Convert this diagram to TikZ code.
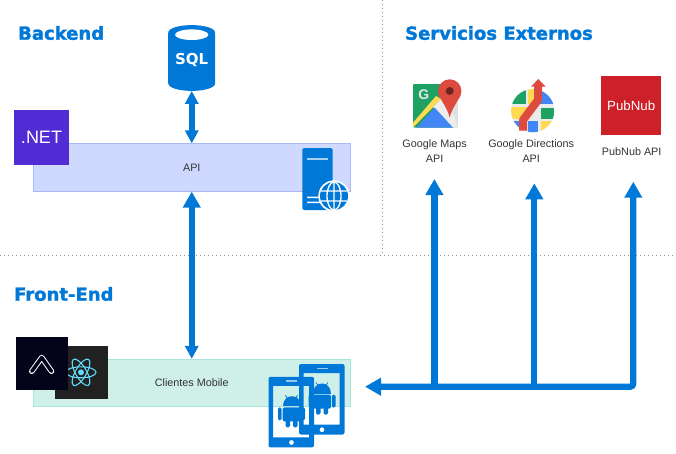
\documentclass[tikz,border=0pt]{standalone}
\usepackage{fontspec}
\setmainfont{Liberation Sans}
\newfontfamily\headfont{DejaVu Sans}[BoldFeatures={FakeBold=1.6}]
\newfontfamily\sqlfont{DejaVu Sans}
\usetikzlibrary{arrows.meta}
\definecolor{flowblue}{HTML}{0078D7}
\definecolor{apifill}{HTML}{CFD8FF}
\definecolor{apiline}{HTML}{A8B8F6}
\definecolor{mobfill}{HTML}{CEF0E9}
\definecolor{mobline}{HTML}{A8E5DA}
\definecolor{netpurple}{HTML}{512BD4}
\definecolor{pubred}{HTML}{CE2029}
\definecolor{atomblue}{HTML}{61DAFB}
\definecolor{ambientdark}{HTML}{03031A}
\definecolor{gred}{HTML}{DD4B3E}
\definecolor{ggreen}{HTML}{1DA261}
\definecolor{gblue}{HTML}{4285F4}
\definecolor{gyellow}{HTML}{FFD94F}
\tikzset{
  bigtip/.tip={Triangle[length=16pt,width=17pt]},
  smalltip/.tip={Triangle[length=13pt,width=13pt]},
  flow/.style={draw=flowblue,line width=6.2pt},
  divider/.style={draw=gray!85,line width=0.7pt,dash pattern=on 1pt off 3pt},
  bar/.style={minimum width=316.5pt,minimum height=47.5pt,line width=0.8pt,inner sep=0pt,text=black!80,font=\fontsize{10.8}{13}\selectfont},
  title/.style={anchor=west,inner sep=0pt,text=flowblue,font=\headfont\bfseries\fontsize{18}{20}\selectfont},
  caption/.style={align=center,text=black!80,font=\fontsize{10.8}{15}\selectfont},
  badge/.style={minimum width=#1,minimum height=#1,inner sep=0pt,text=white}
}
\newcommand{\phonebot}[2]{
  \begin{scope}[shift={(#1,#2)}]
    \fill[flowblue,even odd rule] [rounded corners=2pt] (0,0) rectangle (45.5,70.5)
      [sharp corners] (4.5,9) rectangle (40.5,60.5) (23,65.7) circle (2.5);
    \fill[white!60!flowblue] (17.5,3.5) rectangle (28.5,5);
    \begin{scope}[shift={(23,19.5)},flowblue]
      \fill (-9,10) .. controls (-9,-3.3) and (9,-3.3) .. (9,10) -- cycle;
      \draw[line width=0.8pt] (-4,2) -- (-6,-1) (4,2) -- (6,-1);
      \fill[rounded corners=1.5pt] (-9,11) rectangle (9,25);
      \fill[rounded corners=1.5pt] (-13.5,11) rectangle (-10,24) (10,11) rectangle (13.5,24);
      \fill[rounded corners=1.5pt] (-6,22) rectangle (-1.5,31) (1.5,22) rectangle (6,31);
    \end{scope}
  \end{scope}
}
\begin{document}
\begin{tikzpicture}[x=1pt,y=-1pt]
  \useasboundingbox (0,0) rectangle (676,453);
  \coordinate (divleft) at (0,255);
  \coordinate (divright) at (676,255);
  \coordinate (divtop) at (382,0);
  \coordinate (divend) at (382,255);
  \draw[divider] (divleft) to (divright);
  \draw[divider] (divtop) to (divend);

  \node[title] (backend) at (18,33) {Backend};
  \node[title] (externos) at (405,33) {Servicios Externos};
  \node[title] (frontend) at (14,294) {Front-End};

  \node[bar,fill=apifill,draw=apiline] (api) at (191.75,167.5) {API};
  \node[bar,fill=mobfill,draw=mobline] (mobile) at (191.75,383) {Clientes Mobile};

  % base de datos
  \node[minimum width=47pt,minimum height=65.5pt,inner sep=0pt] (sql) at (191.75,58) {};
  \fill[flowblue] (168.2,33) .. controls (168.2,22.5) and (215.2,22.5) .. (215.2,33) -- (215.2,83)
    .. controls (215.2,93.5) and (168.2,93.5) .. (168.2,83) -- cycle;
  \fill[white] (191.7,34.7) ellipse (16.7 and 5.3);
  \node[text=white,font=\sqlfont\bfseries\fontsize{15}{15}\selectfont] (sqltext) at (191.75,60.5) {SQL};

  \coordinate (mapsin) at (434.4,179);
  \coordinate (dirin) at (534.3,183.3);
  \coordinate (pubin) at (633.3,181.7);
  \coordinate (buscorner) at (633.3,386.7);
  \coordinate (busmaps) at (434.4,386.7);
  \coordinate (busdir) at (534.3,386.7);
  \coordinate (mobilein) at (365,386.7);
  \begin{scope}[flow]
    \draw[smalltip-smalltip] (sql) to (api);
    \draw[bigtip-smalltip] (api) to (mobile);
    \draw[-bigtip] (busmaps) to (mapsin);
    \draw[-bigtip] (busdir) to (dirin);
    \draw[bigtip-bigtip,rounded corners=3pt] (pubin) -- (buscorner) -- (mobilein);
  \end{scope}

  \node[badge=54.4pt,fill=netpurple,font=\fontsize{18}{18}\selectfont] (net) at (41.5,137.3) {.NET};
  \node[badge=53.5pt,fill=black!87] (react) at (81.4,372.7) {};
  \foreach \ang in {0,60,120}
    \draw[atomblue,line width=1.1pt,rotate around={\ang:(81,372.3)}] (81,372.3) ellipse (15 and 5.5);
  \fill[atomblue] (81,372.3) circle (3);
  \node[badge=52.4pt,fill=ambientdark] (ambient) at (42,363.3) {};
  \draw[white,line width=5.5pt,line cap=round,line join=round] (31.8,371.3) -- (41.7,357.5) -- (51.5,371.3);
  \draw[ambientdark,line width=3.5pt,line cap=round,line join=round] (31.8,371.3) -- (41.7,357.5) -- (51.5,371.3);

  % servidor
  \fill[flowblue,rounded corners=1.5pt] (302.3,148) -- (332.7,148) -- (332.7,210) -- (302.3,210) -- cycle;
  \fill[white!65!flowblue] (307,157.5) rectangle (328,159.7);
  \fill[white] (307,196.5) rectangle (320,198.2) (307,201.5) rectangle (320,203.2);
  \fill[white] (334,196) circle (15.7);
  \fill[flowblue] (334,196) circle (14);
  \draw[white,line width=1.3pt] (334,182) -- (334,210) (321,191) -- (347,191) (321,201) -- (347,201) (334,196) ellipse (7 and 14);

  \foreach \px/\py in {299/364,268.5/376.8}
    {\phonebot{\px}{\py}}

  % google maps
  \begin{scope}
    \clip[rounded corners=2pt] (413,83.5) rectangle (458,127.7);
    \fill[ggreen] (413,83.5) rectangle (458,127.7);
    \fill[black!12] (438,100) -- (458,84) -- (458,127.7) -- (452,127.7) -- cycle;
    \fill[gyellow] (413,122.7) -- (436,96) -- (441,99) -- (413,127.7) -- cycle;
    \fill[white!93!black] (441,99) -- (454,116) -- (458,127.7) -- (453,127.7) -- (433,107) -- cycle;
    \fill[gblue] (416.3,127.7) -- (434.7,107.7) -- (453,127.7) -- cycle;
  \end{scope}
  \node[text=white!90!black,font=\bfseries\fontsize{14}{14}\selectfont] (mapsg) at (423.7,95) {G};
  \fill[gred] (449.7,91) circle (11.7);
  \fill[gred] (438.8,95.5) .. controls (443,103) and (448,110) .. (449.7,117.7) .. controls (451.4,110) and (456.4,103) .. (460.6,95.5) -- cycle;
  \fill[gred!50!black] (449.7,91) circle (4);

  % google directions
  \begin{scope}
    \clip (532.7,110.7) circle (21.6);
    \fill[white!92!black] (511,89) rectangle (555,133);
    \fill[ggreen] (511,89) rectangle (525.7,104);
    \fill[gyellow] (527.7,89) rectangle (536,104);
    \fill[gblue] (538,89) rectangle (555,104);
    \fill[gyellow] (511,107) rectangle (530,119);
    \fill[ggreen] (541,108) rectangle (555,119);
    \fill[gblue] (511,121) rectangle (520,133);
    \fill[gblue] (527.7,121) rectangle (538.3,133);
    \fill[gyellow] (540.7,121) rectangle (555,133);
  \end{scope}
  \draw[gred,line width=8pt,line join=round] (523,130.5) -- (523,120) -- (538,100) -- (538,85);
  \fill[gred] (531,86.7) -- (538.3,79) -- (545.7,86.7) -- cycle;

  \node[badge=59.5pt,fill=pubred,font=\fontsize{13.3}{14}\selectfont] (pubnub) at (631.2,105.5) {PubNub};

  \node[caption] (mapsapi) at (434.6,151.5) {Google Maps\\API};
  \node[caption] (dirapi) at (531.2,151.5) {Google Directions\\API};
  \node[caption] (pubapi) at (631.7,152) {PubNub API};
\end{tikzpicture}
\end{document}
